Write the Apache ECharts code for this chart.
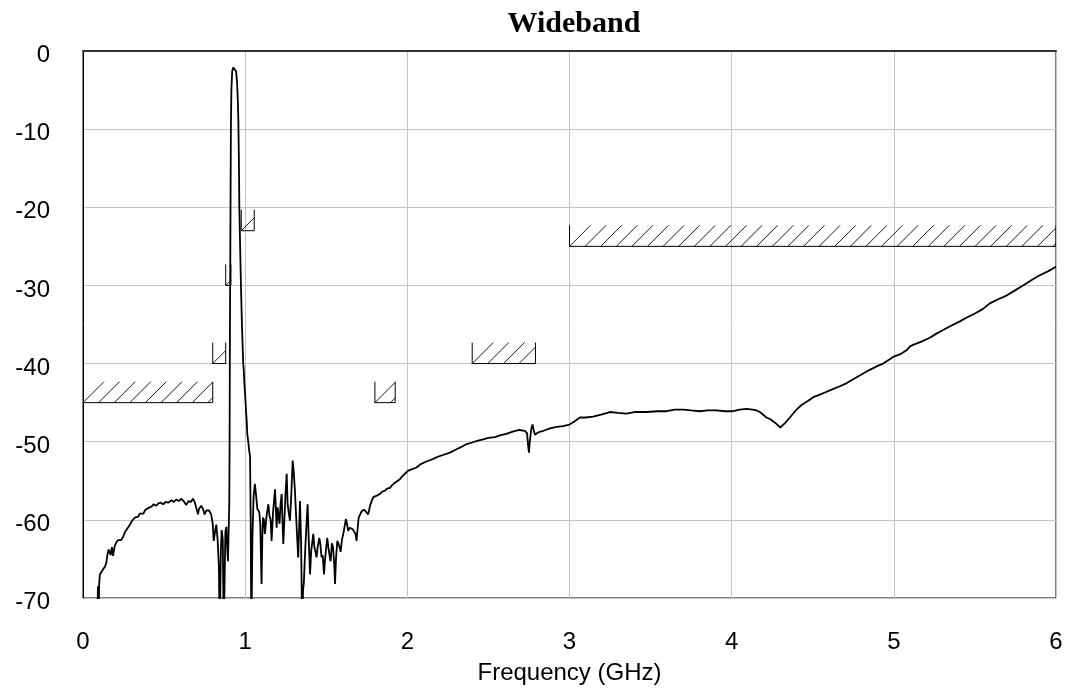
<!DOCTYPE html>
<html>
<head>
<meta charset="utf-8">
<script src="https://cdn.jsdelivr.net/npm/echarts@6/dist/echarts.min.js"></script>
<style>
html,body{margin:0;padding:0;background:#fff;}
#chart{width:1067px;height:697px;}
</style>
</head>
<body>
<div id="chart"></div>
<script>
// ---- Data ----
const chartTitle = 'Wideband';
const xAxisTitle = 'Frequency (GHz)';
const xTicks = [0, 1, 2, 3, 4, 5, 6];
const yTicks = [0, -10, -20, -30, -40, -50, -60, -70];

// Mask (limit) segments: start GHz, end GHz, level dB
const maskStart = [0, 0.8, 0.88, 0.976, 1.8, 2.4, 3.0];
const maskEnd   = [0.8, 0.88, 0.912, 1.056, 1.925, 2.79, 6.0];
const maskLevel = [-45, -40, -30, -23, -45, -40, -25];

// Measured trace
const traceFreq = [
0.088,0.092,0.097,0.099,0.104,0.113,0.125,0.135,0.144,0.150,0.158,0.164,0.170,0.178,0.185,0.195,0.205,0.215,0.225,0.235,
0.247,0.258,0.270,0.280,0.290,0.300,0.310,0.320,0.330,0.340,0.350,0.362,0.372,0.385,0.395,0.410,0.423,0.435,0.450,0.465,
0.480,0.495,0.510,0.525,0.545,0.560,0.575,0.590,0.606,0.620,0.637,0.650,0.665,0.678,0.690,0.700,0.709,0.715,0.729,0.740,
0.750,0.760,0.770,0.777,0.790,0.800,0.806,0.815,0.822,0.830,0.838,0.843,0.850,0.855,0.862,0.868,0.873,0.878,0.884,0.889,
0.894,0.898,0.902,0.904,0.906,0.908,0.910,0.912,0.915,0.920,0.926,0.932,0.938,0.944,0.950,0.955,0.958,0.962,0.964,0.969,
0.974,0.980,0.988,0.992,0.995,1.000,1.005,1.010,1.013,1.019,1.025,1.030,1.034,1.038,1.045,1.052,1.060,1.068,1.075,1.081,
1.087,1.093,1.101,1.106,1.110,1.116,1.122,1.132,1.143,1.150,1.157,1.163,1.172,1.184,1.190,1.194,1.200,1.206,1.212,1.218,
1.225,1.230,1.235,1.242,1.248,1.256,1.262,1.268,1.276,1.284,1.293,1.300,1.307,1.313,1.320,1.327,1.333,1.338,1.345,1.352,
1.357,1.362,1.369,1.377,1.385,1.392,1.400,1.407,1.413,1.420,1.427,1.433,1.440,1.447,1.457,1.463,1.471,1.478,1.486,1.493,
1.500,1.506,1.513,1.520,1.527,1.535,1.542,1.550,1.554,1.560,1.568,1.575,1.582,1.589,1.597,1.605,1.613,1.621,1.628,1.635,
1.645,1.655,1.663,1.672,1.680,1.687,1.694,1.700,1.708,1.718,1.725,1.733,1.745,1.759,1.770,1.780,1.790,1.800,1.812,1.820,
1.831,1.845,1.860,1.875,1.893,1.905,1.920,1.935,1.954,1.970,1.985,2.006,2.030,2.057,2.080,2.110,2.135,2.160,2.190,2.220,
2.263,2.300,2.330,2.366,2.400,2.430,2.468,2.500,2.540,2.571,2.610,2.650,2.690,2.725,2.738,2.745,2.750,2.755,2.765,2.772,
2.778,2.787,2.800,2.820,2.840,2.880,2.920,2.960,3.000,3.030,3.064,3.100,3.146,3.200,3.249,3.300,3.352,3.400,3.475,3.540,
3.598,3.650,3.701,3.750,3.804,3.850,3.907,3.960,4.009,4.050,4.092,4.130,4.154,4.174,4.215,4.236,4.270,4.300,4.330,4.359,
4.395,4.431,4.470,4.503,4.540,4.575,4.620,4.667,4.710,4.749,4.800,4.852,4.900,4.934,4.970,5.000,5.040,5.078,5.100,5.119,
5.170,5.222,5.260,5.304,5.350,5.407,5.450,5.500,5.550,5.592,5.640,5.695,5.750,5.797,5.850,5.900,5.950,6.000
];
const traceDb = [
-75,-68.5,-75,-68.5,-67,-66.8,-66.3,-66.0,-65.5,-64.5,-63.8,-63.6,-64.5,-63.5,-64.6,-63.4,-62.9,-62.6,-62.4,-62.6,
-62.2,-61.6,-61.2,-60.9,-60.6,-60.2,-60.0,-59.7,-59.5,-59.6,-59.2,-59.0,-59.2,-58.7,-58.8,-58.4,-58.3,-58.0,-58.2,-57.9,
-57.8,-58.0,-57.7,-57.8,-57.5,-57.7,-57.4,-57.6,-57.3,-57.6,-58.1,-57.6,-57.7,-57.3,-57.8,-58.0,-59.3,-58.6,-58.2,-58.6,
-59.3,-58.8,-58.6,-58.8,-59.3,-60.5,-62.7,-61.4,-60.6,-62.5,-66,-75,-64,-61.3,-62.5,-75,-68,-61.5,-60.9,-63.5,
-65.3,-61.5,-58,-50,-36,-28,-18,-10,-5,-2.6,-2.1,-2.3,-2.2,-2.6,-4,-6.5,-9,-15,-20,-25,
-30,-35,-40,-41,-42.5,-44,-46,-47.5,-49,-50,-51.2,-51.8,-60,-75,-62,-57,-55.4,-57,-58.6,-58.4,
-59,-60.5,-68.2,-62,-59.7,-60,-61.8,-59.5,-58,-59.5,-60,-62.7,-59,-56.1,-59,-61,-58.4,-59.5,-60.5,-58,
-56.7,-60,-63.1,-60,-57,-54.1,-58,-59,-60.1,-57,-52.4,-54,-56.3,-59,-62,-64.8,-61,-57.6,-63,-75,
-69,-68,-64.4,-61,-58,-62.5,-67,-64,-63,-61.8,-63.5,-64,-64.8,-63.5,-62.3,-63,-64.8,-64.5,-67,-65,
-63.5,-62.3,-63.5,-64.5,-65.3,-63,-63.5,-66,-68.2,-65,-62.7,-63,-63.5,-64.1,-62.5,-61.8,-62,-59.9,-60.5,-61.4,
-61,-60.8,-61.2,-61.5,-61.8,-62.7,-61,-59.7,-59.5,-58.9,-59,-58.7,-58.8,-59.3,-58.2,-57.6,-57.1,-57.2,-56.9,-56.7,
-56.7,-56.4,-56.3,-56.0,-55.9,-55.6,-55.3,-55.1,-54.8,-54.4,-54.1,-53.7,-53.5,-53.3,-52.9,-52.6,-52.4,-52.2,-51.9,-51.7,
-51.4,-51.0,-50.7,-50.3,-50.1,-49.9,-49.7,-49.5,-49.4,-49.2,-49.0,-48.7,-48.5,-48.6,-48.9,-50.5,-51.4,-50.0,-48.3,-47.8,
-48.4,-49.1,-48.9,-48.7,-48.6,-48.3,-48.1,-48.0,-47.8,-47.4,-46.9,-46.9,-46.8,-46.5,-46.2,-46.3,-46.4,-46.2,-46.2,-46.1,
-46.1,-45.9,-45.9,-46.0,-46.1,-46.0,-46.0,-46.1,-46.1,-45.9,-45.8,-45.9,-46.0,-46.2,-46.9,-47.1,-47.6,-48.2,-47.6,-46.9,
-46.0,-45.3,-44.8,-44.3,-44.0,-43.7,-43.3,-42.9,-42.5,-42.0,-41.4,-40.8,-40.3,-40.0,-39.5,-39.1,-38.8,-38.3,-37.8,-37.6,
-37.2,-36.7,-36.2,-35.7,-35.2,-34.6,-34.1,-33.6,-33.0,-32.3,-31.8,-31.3,-30.6,-30.0,-29.3,-28.7,-28.2,-27.6
];

// ---- Build ----
const traceData = traceFreq.map((f, i) => [f, traceDb[i]]);
const maskData = maskStart.map((s, i) => [s, maskEnd[i], maskLevel[i]]);

const HATCH_H = 21;   // px height of hatched band
const HATCH_SP = 15.6; // px spacing between hatch strokes

function renderMask(params, api) {
  const x0 = api.value(0), x1 = api.value(1), lv = api.value(2);
  const p0 = api.coord([x0, lv]);
  const p1 = api.coord([x1, lv]);
  const style = { stroke: '#000', lineWidth: 1 };
  const children = [];
  children.push({ type: 'line', shape: { x1: p0[0], y1: p0[1], x2: p1[0], y2: p1[1] }, style });
  children.push({ type: 'line', shape: { x1: p0[0], y1: p0[1], x2: p0[0], y2: p0[1] - HATCH_H }, style });
  children.push({ type: 'line', shape: { x1: p1[0], y1: p1[1], x2: p1[0], y2: p1[1] - HATCH_H }, style });
  for (let sx = p0[0]; sx < p1[0] - 0.5; sx += HATCH_SP) {
    const ex = Math.min(sx + HATCH_H, p1[0]);
    const ey = p0[1] - (ex - sx);
    children.push({ type: 'line', shape: { x1: sx, y1: p0[1], x2: ex, y2: ey }, style: { stroke: '#000', lineWidth: 0.9 } });
  }
  return { type: 'group', children };
}

const chart = echarts.init(document.getElementById('chart'), null, { renderer: 'canvas' });
const labelFont = 'Liberation Sans, Arial, sans-serif';
chart.setOption({
  animation: false,
  backgroundColor: '#fff',
  grid: { left: 83, right: 11, top: 51, bottom: 99, show: true, borderColor: '#000', borderWidth: 1 },
  graphic: [{
    type: 'text', x: 574, y: 24,
    style: { text: chartTitle, font: 'bold 30px "Liberation Serif", "Times New Roman", serif', fill: '#000', textAlign: 'center', textVerticalAlign: 'middle' }
  }],
  xAxis: {
    type: 'value', min: xTicks[0], max: xTicks[xTicks.length - 1], interval: 1,
    name: xAxisTitle, nameLocation: 'middle', nameGap: 63,
    nameTextStyle: { fontFamily: labelFont, fontSize: 24, color: '#000' },
    axisLine: { show: true, lineStyle: { color: '#333', width: 2 } },
    axisTick: { show: false },
    axisLabel: { fontFamily: labelFont, fontSize: 24, color: '#000', margin: 32,
      formatter: v => xTicks.includes(v) ? String(v) : '' },
    splitLine: { show: true, lineStyle: { color: '#c4c4c4', width: 1 } }
  },
  yAxis: {
    type: 'value', min: yTicks[yTicks.length - 1], max: yTicks[0], interval: 10,
    axisLine: { show: true, lineStyle: { color: '#000', width: 1 } },
    axisTick: { show: false },
    axisLabel: { color: '#000', margin: 33,
      formatter: v => yTicks.includes(v) ? '{t|' + v + '}' : '',
      rich: { t: { fontFamily: labelFont, fontSize: 24, color: '#000', padding: [9, 0, 0, 0] } } },
    splitLine: { show: true, lineStyle: { color: '#c4c4c4', width: 1 } }
  },
  series: [
    {
      type: 'custom', name: 'Mask', renderItem: renderMask, data: maskData,
      encode: { x: [0, 1], y: 2 }, z: 3, silent: true, clip: true
    },
    {
      type: 'line', name: 'Wideband', data: traceData, showSymbol: false, symbol: 'none',
      lineStyle: { color: '#000', width: 1.8 }, clip: true, z: 4, silent: true
    }
  ]
});
</script>
</body>
</html>
